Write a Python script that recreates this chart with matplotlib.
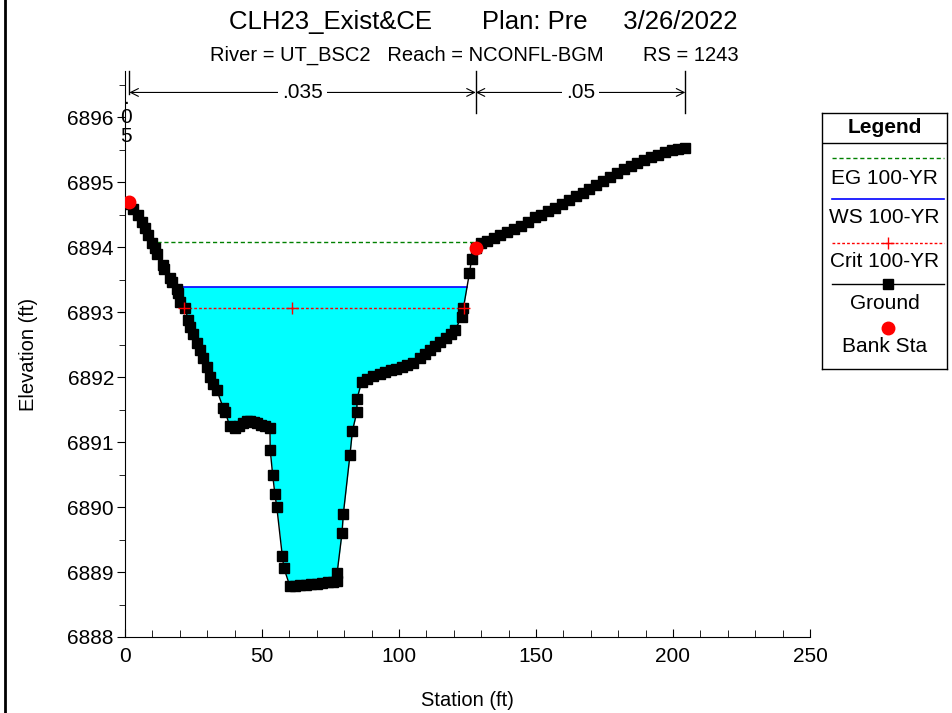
import numpy as np
import matplotlib
matplotlib.use("Agg")
import matplotlib.pyplot as plt
from matplotlib.ticker import MultipleLocator

plt.rcParams["font.family"] = ["Liberation Sans", "DejaVu Sans"]

# ground profile (station ft, elevation ft)
station = [
    0.0, 1.6, 3.0, 4.9, 6.1, 7.3, 8.5, 9.7, 10.9, 11.6, 14.0, 14.3, 16.4, 17.0,
    18.9, 19.5, 20.1, 21.9, 23.1, 23.7, 24.9, 26.2, 27.4, 28.6, 29.8, 31.0, 32.2,
    33.5, 35.9, 36.5, 38.3, 40.1, 41.5, 43.2, 44.5, 45.6, 47.0, 48.1, 49.5, 51.1,
    52.9, 53.0, 53.9, 54.7, 55.4, 57.4, 58.0, 60.2, 62.0, 64.0, 66.0, 68.0, 70.0,
    72.0, 74.0, 76.0, 77.3, 77.4, 79.2, 79.7, 82.1, 83.0, 84.6, 84.7, 86.4, 88.5,
    90.6, 93.0, 95.0, 97.0, 99.0, 101.0, 103.0, 105.0, 107.7, 109.5, 111.3, 113.0,
    115.0, 117.0, 119.0, 120.4, 122.9, 123.5, 125.7, 126.5, 128.0, 130.0, 132.0,
    134.5, 137.0, 139.5, 142.0, 144.5, 147.0, 149.5, 152.0, 154.5, 157.0, 159.5,
    162.0, 164.5, 167.0, 169.5, 172.0, 174.5, 177.0, 179.5, 182.0, 184.5, 187.0,
    189.5, 192.0, 194.5, 197.0, 199.5, 202.0, 204.5,
]
ground = [
    6894.68, 6894.66, 6894.58, 6894.49, 6894.39, 6894.29, 6894.18, 6894.06,
    6893.98, 6893.90, 6893.72, 6893.67, 6893.52, 6893.47, 6893.36, 6893.29,
    6893.16, 6893.06, 6892.88, 6892.77, 6892.67, 6892.52, 6892.42, 6892.29,
    6892.16, 6892.00, 6891.90, 6891.80, 6891.52, 6891.47, 6891.24, 6891.21,
    6891.25, 6891.29, 6891.32, 6891.33, 6891.31, 6891.29, 6891.27, 6891.24,
    6891.21, 6890.88, 6890.49, 6890.20, 6890.00, 6889.25, 6889.06, 6888.78,
    6888.79, 6888.80, 6888.80, 6888.81, 6888.82, 6888.83, 6888.84, 6888.85,
    6888.86, 6888.98, 6889.60, 6889.90, 6890.80, 6891.17, 6891.46, 6891.67,
    6891.93, 6891.97, 6892.02, 6892.05, 6892.08, 6892.11, 6892.13, 6892.16,
    6892.18, 6892.22, 6892.29, 6892.35, 6892.42, 6892.48, 6892.54, 6892.60,
    6892.66, 6892.72, 6892.93, 6893.06, 6893.60, 6893.81, 6893.98, 6894.06,
    6894.09, 6894.14, 6894.19, 6894.24, 6894.28, 6894.33, 6894.38, 6894.46,
    6894.50, 6894.55, 6894.60, 6894.66, 6894.72, 6894.79, 6894.84, 6894.90,
    6894.95, 6895.02, 6895.08, 6895.14, 6895.20, 6895.25, 6895.30, 6895.34,
    6895.38, 6895.42, 6895.46, 6895.49, 6895.51, 6895.52,
]

bank_station = [1.6, 128.0]
bank_elev = [6894.70, 6893.98]

ws_elev = 6893.39
ws_extent = [18.4, 124.8]
eg_elev = 6894.08
eg_extent = [9.1, 133.0]
crit_elev = 6893.06
crit_station = [21.6, 60.8, 123.6]

n_breaks = [0.0, 1.6, 128.0, 204.5]
n_values = [".05", ".035", ".05"]

title = "CLH23_Exist&CE       Plan: Pre     3/26/2022"
subtitle = "River = UT_BSC2   Reach = NCONFL-BGM       RS = 1243"

W, H = 953, 713
fig = plt.figure(figsize=(W / 100, H / 100), dpi=100)
ax = fig.add_axes([125 / W, 1 - 637 / H, 685 / W, 566 / H])

st = np.array(station)
gr = np.array(ground)

# water fill
ax.fill_between(st, gr, ws_elev, where=gr <= ws_elev, interpolate=True,
                color="#00ffff", lw=0, zorder=1)
ax.plot(eg_extent, [eg_elev] * 2, color="#008000", lw=1, ls=(0, (3, 2)), zorder=2)
ax.plot(ws_extent, [ws_elev] * 2, color="#0000ff", lw=1.2, zorder=2)
ax.plot([crit_station[0], crit_station[-1]], [crit_elev] * 2, color="red",
        lw=1, ls=(0, (2, 1.5)), zorder=2)
ax.plot(crit_station, [crit_elev] * 3, ls="none", marker="+", color="red",
        ms=9, mew=1, zorder=4)
ax.plot(st, gr, color="black", lw=1, marker="s", ms=6.5, zorder=3)
ax.plot(bank_station, bank_elev, ls="none", marker="o", color="red", ms=9, zorder=5)

ax.set_xlim(0, 250)
ax.set_ylim(6888, 6896.71)
ax.spines["top"].set_visible(False)
ax.spines["right"].set_visible(False)
ax.xaxis.set_major_locator(MultipleLocator(50))
ax.xaxis.set_minor_locator(MultipleLocator(10))
ax.yaxis.set_minor_locator(MultipleLocator(0.5))
ax.set_yticks(np.arange(6888, 6897, 1))
ax.tick_params(axis="x", which="both", direction="in", labelsize=15, pad=7)
ax.tick_params(axis="x", which="major", length=6)
ax.tick_params(axis="x", which="minor", length=5)
ax.tick_params(axis="y", which="major", direction="out", length=6, labelsize=15, pad=2)
ax.tick_params(axis="y", which="minor", direction="out", length=4)
ax.set_xlabel("Station (ft)", fontsize=14.5, labelpad=18)
ax.set_ylabel("Elevation (ft)", fontsize=14.5, labelpad=21)

# manning's n brackets
top = 6896.71
for s in n_breaks[1:]:
    lo = 6896.36 if s == n_breaks[1] else 6896.06
    ax.plot([s, s], [lo, top], color="black", lw=1, clip_on=False)
arrow_y = 6896.38
for a, b, lab in zip(n_breaks[1:-1], n_breaks[2:], n_values[1:]):
    ax.annotate("", xy=(a, arrow_y), xytext=(b, arrow_y),
                arrowprops=dict(arrowstyle="<->", lw=0.8, color="black",
                                shrinkA=0, shrinkB=0, mutation_scale=14))
    ax.text((a + b) / 2, arrow_y, lab, ha="center", va="center", fontsize=15,
            bbox=dict(facecolor="white", edgecolor="none", pad=3))
ax.text(n_breaks[0] + 0.3, 6896.0, ".\n0\n5", ha="center", va="center",
        fontsize=15, linespacing=1.0)

fig.text(483 / W, 1 - 22 / H, title, ha="center", va="center", fontsize=18.5)
fig.text(474 / W, 1 - 55 / H, subtitle, ha="center", va="center", fontsize=14.5)

# left frame line
fig.add_artist(plt.Line2D([5 / W, 5 / W], [0, 1], color="black", lw=2))

# legend box
lg = fig.add_axes([822 / W, 1 - 369 / H, 125 / W, 256 / H])
lg.set_xlim(0, 1)
lg.set_ylim(0, 1)
lg.set_xticks([])
lg.set_yticks([])
for sp in lg.spines.values():
    sp.set_linewidth(1)
lg.text(0.5, 0.945, "Legend", ha="center", va="center", fontsize=15, weight="bold")
lg.axhline(0.883, color="black", lw=1)
lx = [0.08, 0.976]
lg.plot(lx, [0.826] * 2, color="#008000", lw=1, ls=(0, (3, 2)))
lg.text(0.5, 0.746, "EG 100-YR", ha="center", va="center", fontsize=15)
lg.plot(lx, [0.664] * 2, color="#0000ff", lw=1.2)
lg.text(0.5, 0.590, "WS 100-YR", ha="center", va="center", fontsize=15)
lg.plot(lx, [0.494] * 2, color="red", lw=1, ls=(0, (2, 1.5)))
lg.plot([0.528], [0.494], marker="+", color="red", ms=9)
lg.text(0.5, 0.418, "Crit 100-YR", ha="center", va="center", fontsize=15)
lg.plot(lx, [0.332] * 2, color="black", lw=1)
lg.plot([0.528], [0.332], marker="s", color="black", ms=6.5)
lg.text(0.5, 0.254, "Ground", ha="center", va="center", fontsize=15)
lg.plot([0.528], [0.160], marker="o", color="red", ms=9)
lg.text(0.5, 0.086, "Bank Sta", ha="center", va="center", fontsize=15)

fig.savefig("out.png", dpi=100)
